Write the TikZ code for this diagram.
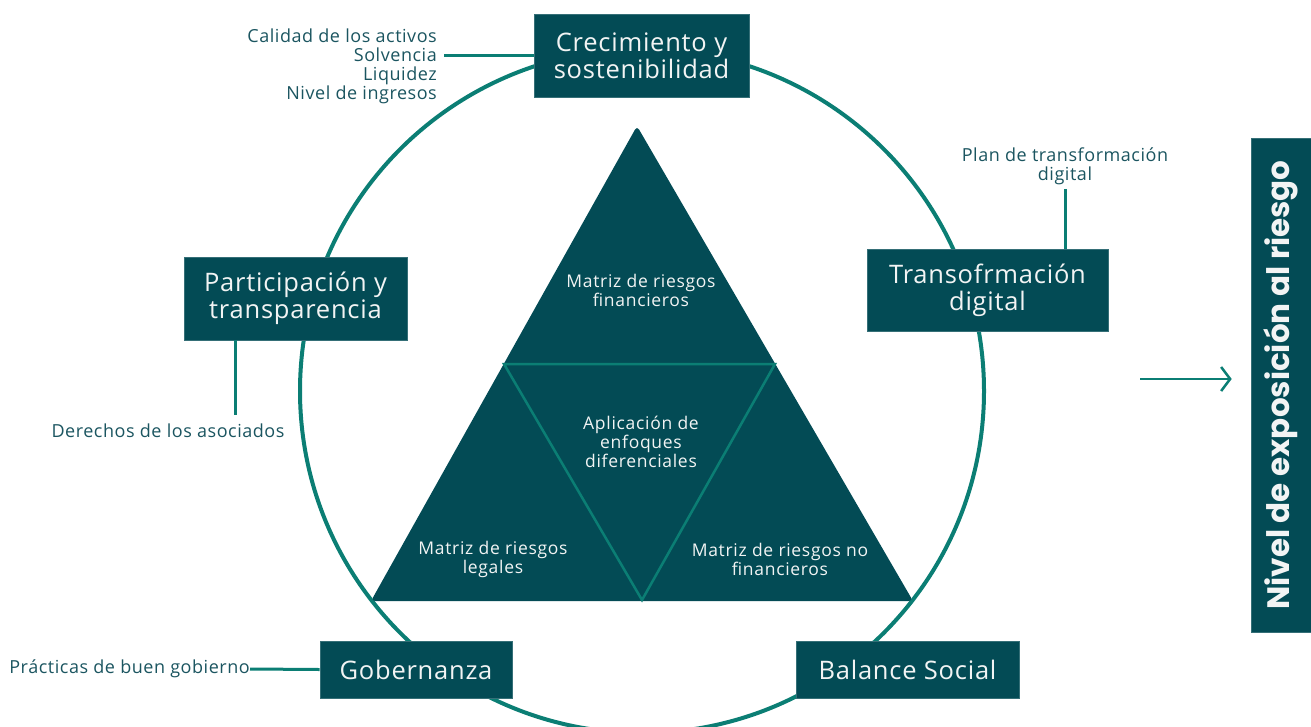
\documentclass[tikz,border=0pt]{standalone}
\usepackage{fontspec}
\setmainfont{Open Sans}[LetterSpace=3]
\newfontfamily\innerfont{Open Sans}[LetterSpace=4]
\newfontfamily\headfont{Poppins}
\usetikzlibrary{arrows.meta}
\definecolor{boxfill}{HTML}{034B55}
\definecolor{ring}{HTML}{0B7E74}
\definecolor{labeltext}{HTML}{1B5560}
\definecolor{boxtext}{HTML}{F2F4F4}
\begin{document}
\begin{tikzpicture}[x=1pt,y=-1pt,
  pillar/.style={fill=boxfill, draw=boxfill!80!white, line width=0.6pt, text=boxtext,
    font=\fontsize{25.5}{27}\selectfont, align=center, inner sep=0pt},
  side/.style={text=labeltext, font=\fontsize{18}{19}\selectfont, inner sep=0pt},
  inner/.style={text=boxtext, font=\innerfont\fontsize{17.5}{19}\selectfont, align=center, inner sep=0pt},
  link/.style={draw=ring, line width=3pt},
]
\useasboundingbox (0,0) rectangle (1311,726);

% outer ring
\draw[ring, line width=4pt] (642,391) circle[radius=342];

% risk triangle
\fill[boxfill, rounded corners=4pt] (637,126) -- (371,601) -- (913,601) -- cycle;
\draw[ring, line width=2.5pt, line join=miter] (504,364) -- (775,364) -- (642,600) -- cycle;

\node[inner] (fin) at (641,290) {Matriz de riesgos\\financieros};
\node[inner] (dif) at (641,442) {Aplicación de\\enfoques\\diferenciales};
\node[inner] (leg) at (493,559) {Matriz de riesgos\\legales};
\node[inner] (nfin) at (780,559) {Matriz de riesgos no\\financieros};

% pillars around the ring
\node[pillar, minimum width=215, minimum height=83] (crec) at (641.5,55.5) {Crecimiento y\\sostenibilidad};
\node[pillar, minimum width=223, minimum height=83] (part) at (295.5,298.5) {Participación y\\transparencia};
\node[pillar, minimum width=241, minimum height=82] (trans) at (987.5,290) {Transofrmación\\digital};
\node[pillar, minimum width=192, minimum height=57] (gob) at (416,669.5) {Gobernanza};
\node[pillar, minimum width=223, minimum height=57] (bal) at (907.5,669.5) {Balance Social};

% side notes
\node[side, anchor=east, align=right] (crecnote) at (437,66)
  {Calidad de los activos\\Solvencia\\Liquidez\\Nivel de ingresos};
\node[side, align=center] (plan) at (1065,166) {Plan de transformación\\digital};
\node[side] (der) at (168,431) {Derechos de los asociados};
\node[side, anchor=east] (prac) at (250,669) {Prácticas de buen gobierno};

\draw[link, shorten <=7pt] (crecnote.east |- crec.west) -- (crec.west);
\draw[link, shorten <=4pt] (plan.south) -- (plan.south |- trans.north);
\coordinate (derx) at (235,0);
\draw[link, shorten >=9pt] (part.south -| derx) -- (derx |- der.north);
\draw[link] (prac.east) -- (gob.west);

% result column
\node[fill=boxfill, draw=boxfill!80!white, line width=0.6pt, minimum width=60, minimum height=494,
  inner sep=0pt] (nivel) at (1281,385) {};
\node[rotate=90, text=boxtext, font=\headfont\bfseries\fontsize{31}{34}\selectfont] (niveltxt)
  at (nivel.center) {Nivel de exposición al riesgo};

\coordinate (arr) at (1140,379);
\draw[ring, line width=2.5pt, -{Straight Barb[length=9pt,width=24pt,line width=2.5pt]}, shorten >=19pt]
  (arr) -- (arr -| nivel.west);
\end{tikzpicture}
\end{document}
